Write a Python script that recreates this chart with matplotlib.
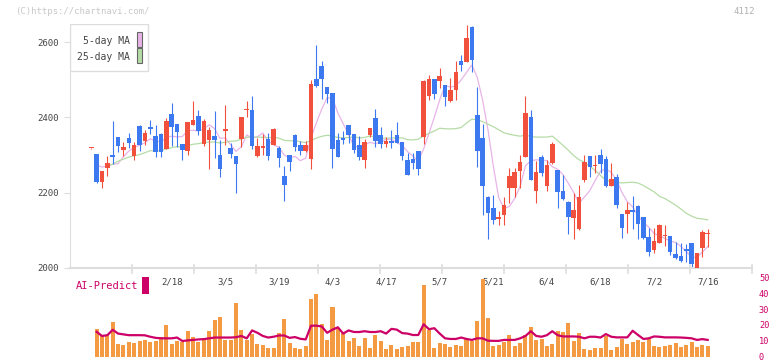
import numpy as np
import pandas as pd
import matplotlib
matplotlib.use("Agg")
import matplotlib.pyplot as plt
from matplotlib.patches import Rectangle

# 日足データ (始値, 高値, 安値, 終値)
opens = [2318, 2303, 2229, 2266, 2299, 2348, 2313, 2345, 2297, 2377,
         2337, 2373, 2350, 2356, 2316, 2409, 2382, 2329, 2311, 2380,
         2404, 2329, 2340, 2350, 2300, 2365, 2319, 2297, 2342, 2419,
         2419, 2297, 2320, 2342, 2327, 2319, 2244, 2300, 2353, 2327,
         2310, 2289, 2502, 2536, 2481, 2465, 2340, 2344, 2380, 2356,
         2327, 2287, 2353, 2398, 2353, 2329, 2336, 2353, 2334, 2287,
         2289, 2311, 2348, 2457, 2502, 2496, 2486, 2443, 2473, 2550,
         2547, 2640, 2406, 2345, 2189, 2159, 2131, 2141, 2212, 2212,
         2258, 2295, 2401, 2204, 2295, 2218, 2279, 2260, 2204, 2175,
         2133, 2103, 2234, 2297, 2270, 2300, 2289, 2218, 2242, 2143,
         2143, 2153, 2165, 2135, 2082, 2048, 2066, 2084, 2085, 2037,
         2032, 2049, 2066, 2001, 2053, 2089]
highs = [2320, 2303, 2258, 2297, 2390, 2348, 2335, 2358, 2335, 2380,
         2366, 2393, 2380, 2358, 2398, 2438, 2383, 2330, 2389, 2443,
         2420, 2396, 2374, 2418, 2340, 2433, 2332, 2298, 2402, 2443,
         2457, 2345, 2356, 2358, 2371, 2324, 2271, 2301, 2356, 2337,
         2337, 2499, 2592, 2550, 2482, 2466, 2358, 2364, 2381, 2357,
         2350, 2342, 2373, 2422, 2374, 2348, 2366, 2388, 2335, 2305,
         2305, 2312, 2499, 2512, 2503, 2531, 2487, 2505, 2550, 2566,
         2645, 2643, 2481, 2382, 2190, 2194, 2151, 2189, 2266, 2266,
         2300, 2457, 2420, 2284, 2300, 2287, 2335, 2261, 2247, 2178,
         2199, 2220, 2300, 2298, 2300, 2316, 2297, 2279, 2250, 2144,
         2175, 2191, 2166, 2136, 2106, 2106, 2117, 2114, 2086, 2069,
         2066, 2064, 2067, 2041, 2101, 2104]
lows = [2317, 2225, 2213, 2245, 2276, 2309, 2297, 2318, 2287, 2311,
        2327, 2356, 2295, 2295, 2315, 2324, 2321, 2287, 2300, 2379,
        2353, 2324, 2263, 2292, 2242, 2327, 2292, 2199, 2321, 2401,
        2316, 2296, 2300, 2287, 2326, 2268, 2178, 2258, 2311, 2300,
        2309, 2263, 2482, 2449, 2438, 2265, 2295, 2329, 2332, 2305,
        2287, 2265, 2348, 2321, 2319, 2321, 2319, 2331, 2287, 2246,
        2263, 2247, 2329, 2446, 2449, 2478, 2430, 2442, 2446, 2523,
        2546, 2520, 2268, 2141, 2077, 2117, 2114, 2114, 2173, 2189,
        2212, 2294, 2233, 2173, 2244, 2204, 2276, 2159, 2180, 2090,
        2077, 2101, 2228, 2242, 2252, 2252, 2215, 2217, 2159, 2080,
        2093, 2103, 2077, 2077, 2032, 2040, 2066, 2058, 2034, 2024,
        2016, 2016, 2000, 2000, 2029, 2056]
closes = [2319, 2228, 2257, 2279, 2296, 2324, 2321, 2332, 2327, 2327,
          2358, 2370, 2308, 2308, 2390, 2374, 2361, 2313, 2388, 2393,
          2364, 2390, 2366, 2340, 2263, 2367, 2303, 2276, 2401, 2420,
          2324, 2324, 2322, 2297, 2369, 2292, 2220, 2281, 2321, 2311,
          2327, 2488, 2483, 2502, 2462, 2316, 2296, 2341, 2353, 2313,
          2295, 2335, 2372, 2337, 2329, 2337, 2332, 2332, 2297, 2247,
          2279, 2263, 2496, 2502, 2462, 2510, 2454, 2473, 2520, 2539,
          2611, 2552, 2311, 2218, 2146, 2127, 2133, 2167, 2244, 2255,
          2281, 2411, 2234, 2255, 2252, 2274, 2329, 2202, 2183, 2135,
          2154, 2189, 2281, 2268, 2272, 2276, 2218, 2236, 2167, 2106,
          2154, 2149, 2117, 2080, 2042, 2072, 2114, 2086, 2042, 2026,
          2019, 2046, 2011, 2040, 2096, 2091]

# 出来高 (下段, 表示スケール)
volume = [np.nan, 17.3, 12.7, 13.6, 21.7, 7.9, 7.3, 9.2, 8.6, 10.0,
          10.6, 9.2, 9.8, 12.3, 19.8, 7.9, 9.8, 9.2, 16.1, 12.3,
          9.2, 11.5, 16.1, 22.9, 24.8, 10.6, 10.6, 33.6, 16.7, 10.6,
          14.2, 7.9, 7.1, 5.4, 5.4, 14.8, 23.6, 8.6, 5.4, 4.8,
          6.7, 36.1, 39.8, 20.4, 10.4, 31.1, 17.9, 14.8, 9.8, 11.7,
          6.7, 11.7, 5.4, 13.6, 9.8, 4.8, 7.3, 4.8, 5.9, 6.5,
          9.2, 9.2, 45.5, 16.9, 5.4, 8.6, 7.9, 6.1, 7.3, 6.7,
          11.1, 9.8, 22.3, 49.2, 24.2, 6.7, 7.3, 9.0, 13.6, 6.7,
          8.6, 13.6, 18.6, 10.4, 11.1, 6.7, 7.9, 16.0, 15.4, 21.0,
          9.8, 14.8, 4.8, 4.2, 5.4, 5.4, 13.0, 4.2, 6.1, 11.1,
          7.9, 9.2, 10.4, 9.2, 11.1, 6.7, 6.1, 6.7, 7.3, 8.6,
          6.1, 7.3, 9.2, 6.1, 7.3, 6.7]

# AI-Predict ライン
ai_predict = [np.nan, 15.6, 13.0, 13.5, 16.9, 14.5, 14.0, 13.5, 13.5, 13.5,
              13.4, 12.5, 11.8, 11.5, 11.5, 11.5, 12.0, 9.8, 10.2, 10.5,
              10.8, 11.0, 11.5, 12.0, 12.0, 12.0, 12.0, 12.2, 13.0, 11.5,
              16.5, 15.0, 13.0, 12.0, 12.5, 13.3, 13.3, 11.8, 12.3, 11.2,
              10.8, 19.5, 19.5, 19.0, 15.0, 17.0, 18.5, 14.5, 16.5, 15.5,
              15.5, 16.0, 15.5, 15.5, 16.0, 14.5, 17.5, 17.0, 14.8, 14.5,
              13.6, 13.6, 20.4, 17.3, 17.9, 14.5, 11.5, 11.1, 11.1, 12.0,
              11.1, 10.5, 11.5, 11.5, 10.0, 9.9, 9.9, 10.5, 10.5, 10.5,
              11.5, 13.0, 16.0, 13.0, 12.5, 13.5, 16.0, 13.5, 12.7, 12.7,
              12.7, 12.5, 11.5, 12.5, 12.5, 12.0, 14.2, 12.5, 12.1, 12.1,
              12.1, 16.3, 13.6, 11.1, 11.5, 12.7, 12.5, 12.1, 12.1, 12.1,
              12.0, 11.8, 11.5, 10.5, 11.0, 10.5]

date_labels = ["2/18", "3/5", "3/19", "4/3", "4/17", "5/7",
               "5/21", "6/4", "6/18", "7/2", "7/16"]
label_idx = [15, 25, 35, 45, 55, 65, 75, 85, 95, 105, 115]

UP = "#f0503c"
DOWN = "#3c78f0"
GRID = "#dddddd"
AI_COL = "#cc0066"
MONO = "DejaVu Sans Mono"

o = np.array(opens, float)
h = np.array(highs, float)
l = np.array(lows, float)
c = np.array(closes, float)
x = np.arange(len(c))
cols = [UP if cc >= oo else DOWN for oo, cc in zip(o, c)]

ma5 = pd.Series(c).rolling(5, min_periods=1).mean()
ma25 = pd.Series(c).rolling(25, min_periods=1).mean()

W, H = 772, 361
fig = plt.figure(figsize=(W / 100, H / 100), dpi=100)

# 上段: ローソク足
ax = fig.add_axes([70 / W, 93 / H, 682 / W, 244 / H])
ax.set_xlim(-3.97, 123.26)
ax.set_ylim(2000, 2648)

ax.plot(x[1:], ma5[1:], color="#e8b4e8", lw=0.9, zorder=1)
ax.plot(x[3:], ma25[3:], color="#b6dca6", lw=0.9, zorder=1)

ax.vlines(x, l, h, colors=cols, lw=0.8, zorder=2)
body = np.maximum(np.abs(c - o), 3.5)
ax.bar(x, body, bottom=np.minimum(o, c), width=0.85, color=cols,
       linewidth=0, zorder=3)

for s in ["top", "right"]:
    ax.spines[s].set_visible(False)
ax.spines["left"].set_color(GRID)
ax.spines["bottom"].set_color(GRID)
ax.spines["bottom"].set_linewidth(1.5)
ax.set_yticks([2000, 2200, 2400, 2600])
ax.tick_params(axis="y", length=4, color=GRID, pad=4, labelsize=6.5,
               labelcolor="#444444")
for t in ax.get_yticklabels():
    t.set_family(MONO)
ax.set_xticks([])

# 下軸の目盛り線
for k in range(1, 12):
    ax.plot([k / 11, k / 11], [-0.022, 0.014], color=GRID, lw=1.2,
            transform=ax.transAxes, clip_on=False)

for lab, i in zip(date_labels, label_idx):
    ax.text(i, -0.058, lab, transform=ax.get_xaxis_transform(),
            ha="center", va="center", fontsize=6.5, color="#444444",
            family=MONO)

# 凡例
leg = Rectangle((0, 0.808), 78 / 682, 47 / 244, transform=ax.transAxes,
                facecolor="white", edgecolor=GRID, lw=1, zorder=5)
ax.add_patch(leg)
ax.text(60 / 682, 1 - 17 / 244, "5-day MA", transform=ax.transAxes,
        ha="right", va="center", fontsize=7, color="#444444",
        family=MONO, zorder=6)
ax.text(60 / 682, 1 - 33 / 244, "25-day MA", transform=ax.transAxes,
        ha="right", va="center", fontsize=7, color="#444444",
        family=MONO, zorder=6)
for yy, fc in [(1 - 23 / 244, "#e8b4e8"), (1 - 39 / 244, "#b6dca6")]:
    ax.add_patch(Rectangle((67 / 682, yy), 5 / 682, 15 / 244,
                           transform=ax.transAxes, facecolor=fc,
                           edgecolor="#666666", lw=0.8, zorder=6))

# 下段: 出来高と AI-Predict
ax2 = fig.add_axes([70 / W, 4.5 / H, 682 / W, 79 / H])
ax2.set_xlim(-3.97, 123.26)
ax2.set_ylim(0, 50)
ax2.bar(x, volume, width=0.75, color="#f39a42", linewidth=0, zorder=1)
ax2.plot(x, ai_predict, color=AI_COL, lw=1.6, zorder=2)
for s in ax2.spines.values():
    s.set_visible(False)
ax2.set_xticks([])
ax2.yaxis.tick_right()
ax2.set_yticks([0, 10, 20, 30, 40, 50])
ax2.tick_params(axis="y", length=0, pad=5, labelsize=6.2,
                labelcolor=AI_COL)
for t in ax2.get_yticklabels():
    t.set_family(MONO)
ax2.patch.set_alpha(0)

fig.text(76 / W, 1 - 286 / H, "AI-Predict", color=AI_COL, fontsize=7.5,
         family=MONO, va="center")
fig.patches.append(Rectangle((142 / W, 1 - 294 / H), 7 / W, 17 / H,
                             transform=fig.transFigure, facecolor=AI_COL,
                             edgecolor="none"))

fig.text(15 / W, 1 - 12 / H, "(C)https://chartnavi.com/", color="#c8c8c8",
         fontsize=6.5, family=MONO, va="center")
fig.text(755 / W, 1 - 12 / H, "4112", color="#b0b0b0", fontsize=6.5,
         family=MONO, va="center", ha="right")

fig.savefig("out.png", dpi=100)
